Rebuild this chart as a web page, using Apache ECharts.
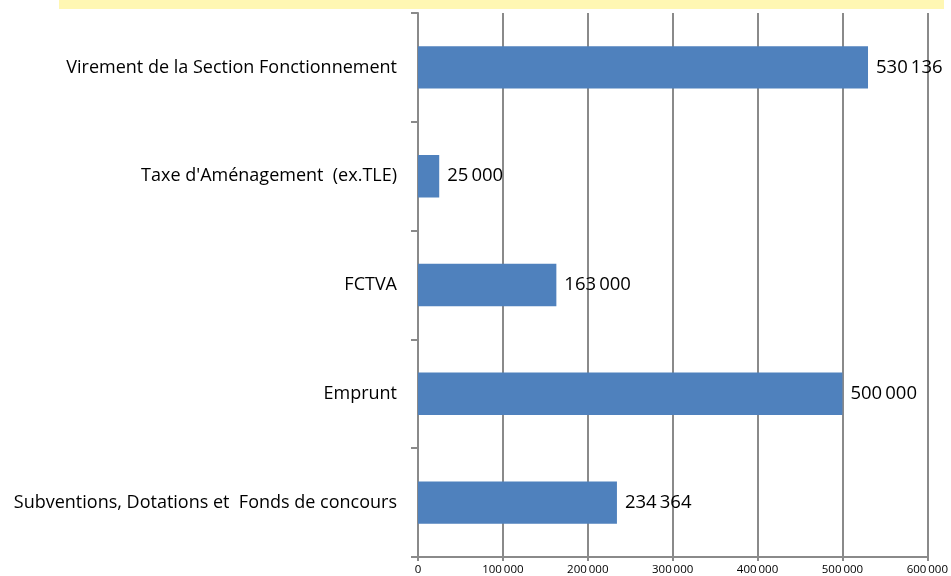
<!DOCTYPE html>
<html>
<head>
<meta charset="utf-8">
<script src="https://cdn.jsdelivr.net/npm/echarts@6/dist/echarts.min.js"></script>
<style>
  html, body { margin: 0; padding: 0; background: #fff; }
  #chart { width: 951px; height: 576px; }
</style>
</head>
<body>
<div id="chart"></div>
<script>
// données (de haut en bas)
var categories = [
    'Virement de la Section Fonctionnement',
    "Taxe d'Aménagement  (ex.TLE)",
    'FCTVA',
    'Emprunt',
    'Subventions, Dotations et  Fonds de concours'
];
var montants = [530136, 25000, 163000, 500000, 234364];
var xTicks = [0, 100000, 200000, 300000, 400000, 500000, 600000];

function fmt(v) {
    return String(v).replace(/\B(?=(\d{3})+(?!\d))/g, '\u2009');
}

var myChart = echarts.init(document.getElementById('chart'));

var option = {
    animation: false,
    textStyle: { fontFamily: 'Open Sans' },
    graphic: [{
        type: 'rect',
        shape: { x: 59, y: 0, width: 885, height: 9 },
        style: { fill: '#FFF7B3' },
        silent: true
    }],
    grid: { left: 418, right: 20, top: 13, bottom: 18 },
    xAxis: {
        type: 'value',
        min: xTicks[0],
        max: xTicks[xTicks.length - 1],
        interval: 100000,
        axisLine: { show: true, lineStyle: { color: '#8a8a8a', width: 2 } },
        axisTick: { show: true, length: 4, lineStyle: { color: '#8a8a8a', width: 2 } },
        splitLine: { show: true, lineStyle: { color: '#8a8a8a', width: 2 } },
        axisLabel: {
            color: '#000', fontSize: 11.5, margin: 7,
            formatter: function (v) { return fmt(v); }
        }
    },
    yAxis: {
        type: 'category',
        inverse: true,
        data: categories,
        axisLine: { show: true, lineStyle: { color: '#8a8a8a', width: 2 } },
        axisTick: { show: true, length: 7, lineStyle: { color: '#8a8a8a', width: 2 } },
        axisLabel: { color: '#000', fontSize: 18, margin: 21 }
    },
    series: [{
        type: 'bar',
        data: montants,
        barWidth: '39%',
        itemStyle: { color: '#4F81BD' },
        label: {
            show: true,
            position: 'right',
            distance: 8,
            color: '#000',
            fontSize: 18.5,
            formatter: function (p) { return fmt(p.value); }
        }
    }]
};

myChart.setOption(option);
</script>
</body>
</html>
